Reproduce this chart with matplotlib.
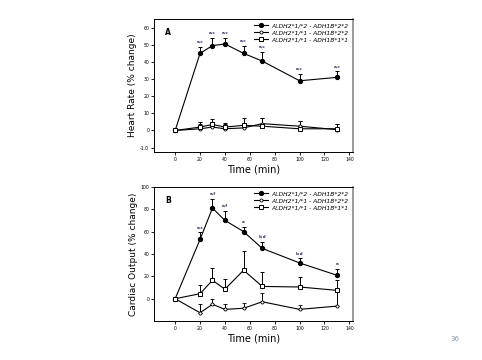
#!/usr/bin/env python3
import numpy as np
import matplotlib
matplotlib.use('Agg')
from matplotlib import pyplot as plt
from matplotlib.lines import Line2D

# --
# data
time_min = [0, 20, 30, 40, 55, 70, 100, 130]
labels = ['ALDH2*1/*2 - ADH1B*2*2',
          'ALDH2*1/*1 - ADH1B*2*2',
          'ALDH2*1/*1 - ADH1B*1*1']

# panel A, heart rate (% change)
hr_12_22 = [0, 45, 49.5, 50.5, 45, 40.5, 29, 31]
hr_12_22_err = [0, 4, 4.5, 3.5, 4.5, 5.5, 4, 3.5]
hr_11_22 = [0, 1, 2, 1, 1.5, 4, 2.5, 0.5]
hr_11_22_err = [0, 3, 3, 2.5, 3, 3, 3, 3]
hr_11_11 = [0, 2, 3.5, 2, 3, 2.5, 1, 1]
hr_11_11_err = [0, 3, 3, 2.5, 4, 4.5, 4.5, 3]
hr_marks = ['', 'a,c', 'a,c', 'a,c', 'a,c', 'a,c', 'a,c', 'a,c']

# panel B, cardiac output (% change)
co_12_22 = [0, 53, 81, 70, 60, 45, 32, 21]
co_12_22_err = [0, 6.5, 8.5, 8.5, 4, 6, 4, 6]
co_11_22 = [0, -12.5, -5, -9.5, -8.5, -2.7, -9.5, -6.6]
co_11_22_err = [0, 7.5, 5, 4.5, 4.5, 8, 3.5, 15.5]
co_11_11 = [0, 4.5, 16.5, 8.5, 25.5, 11, 10.5, 7.5]
co_11_11_err = [0, 8, 11, 9, 17, 12.5, 8.5, 9.5]
co_marks = ['', 'a,c', 'a,f', 'a,f', 'a', 'b,d', 'b,d', 'a']

fSize = 4.3
# --

fig = plt.figure(figsize=(4.82, 3.6), dpi=100)

styles = [dict(marker='o', ms=2.8, mfc='k', mec='k'),
          dict(marker='o', ms=2.2, mfc='white', mec='k', mew=0.6),
          dict(marker='s', ms=3.3, mfc='white', mec='k', mew=0.7)]


def panel(ax, s1, e1, s2, e2, s3, e3, marks, letter, ylab, yticks, ylim):
    t = np.array(time_min)
    for (y, e), st in zip([(s1, e1), (s2, e2), (s3, e3)], styles):
        ax.errorbar(t, y, yerr=[np.zeros(len(e)), e], color='k', lw=0.8,
                    elinewidth=0.7, capsize=1.6, capthick=0.7, **st)
    for x, y, e, m in zip(t, s1, e1, marks):
        if m:
            ax.text(x, y + e + (ylim[1] - ylim[0]) * 0.02, m, fontsize=3,
                    color='#2a2a66', ha='center', va='bottom', weight='bold')
    ax.set_xlim(-17, 143)
    ax.set_ylim(*ylim)
    ax.set_xticks(range(0, 141, 20))
    ax.set_yticks(yticks)
    ax.tick_params(labelsize=3.3, length=2, width=0.6, pad=1.5)
    for sp in ax.spines.values():
        sp.set_linewidth(0.7)
    ax.spines['right'].set_color('#888888')
    ax.spines['right'].set_linewidth(1.2)
    ax.set_xlabel('Time (min)', fontsize=7, labelpad=2)
    ax.set_ylabel(ylab, fontsize=6.5, labelpad=2)
    ax.text(0.055, 0.93, letter, transform=ax.transAxes, fontsize=5.5,
            va='top', weight='bold')
    handles = [Line2D([], [], color='k', lw=0.8, **st) for st in styles]
    ax.legend(handles, labels, loc='upper right', frameon=False,
              prop=dict(style='italic', size=fSize), handlelength=2.2,
              borderaxespad=0.3, labelspacing=0.3, handletextpad=0.7)


axA = fig.add_axes([0.3195, 0.578, 0.413, 0.369])
panel(axA, hr_12_22, hr_12_22_err, hr_11_22, hr_11_22_err, hr_11_11, hr_11_11_err,
      hr_marks, 'A', 'Heart Rate (% change)', range(-10, 61, 10), (-12.5, 65))
axA.set_yticklabels(['-1.0'] + [str(v) for v in range(0, 61, 10)])

axB = fig.add_axes([0.3195, 0.108, 0.413, 0.373])
panel(axB, co_12_22, co_12_22_err, co_11_22, co_11_22_err, co_11_11, co_11_11_err,
      co_marks, 'B', 'Cardiac Output (% change)', range(0, 101, 20), (-20, 100))

fig.text(0.934, 0.052, '36', fontsize=5, color='#8899aa')

plt.savefig('out.png', dpi=100)
